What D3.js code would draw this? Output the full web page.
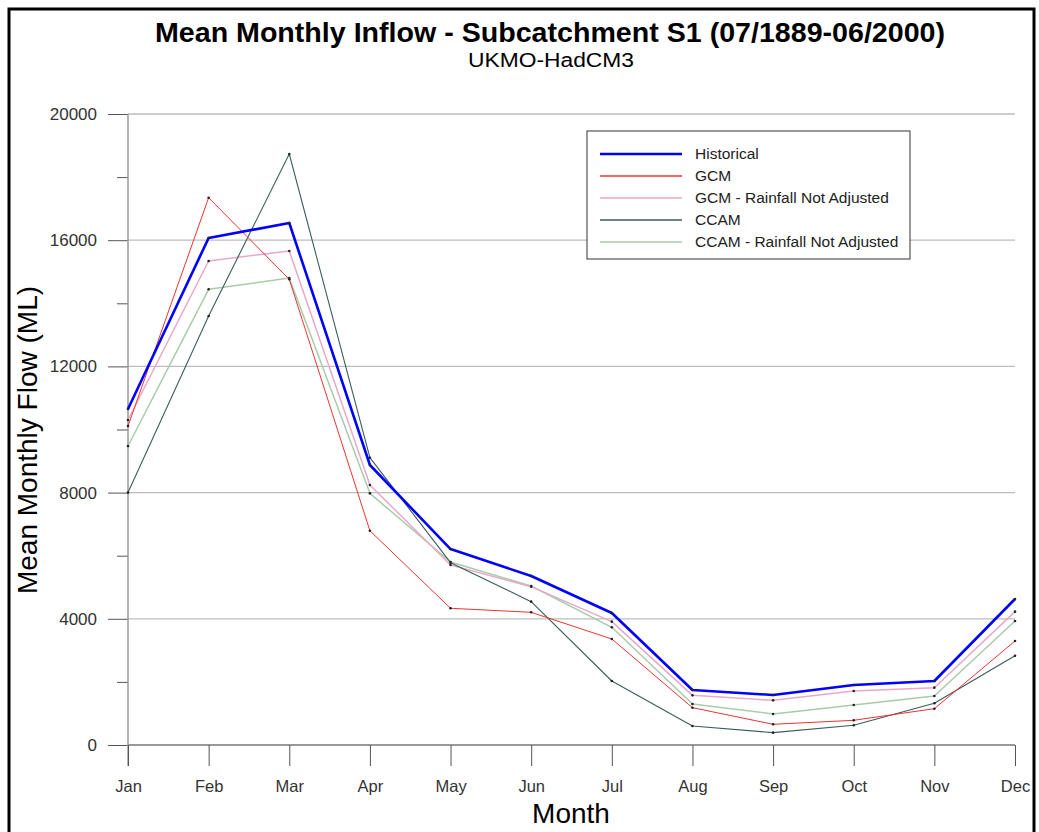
<!DOCTYPE html>
<html>
<head>
<meta charset="utf-8">
<script src="https://cdn.jsdelivr.net/npm/d3@7"></script>
<style>
  body { margin: 0; background: #fff; }
  svg { font-family: "Liberation Sans", Arial, sans-serif; }
</style>
</head>
<body>
<div id="mychart"></div>
<script>
const months = ["Jan", "Feb", "Mar", "Apr", "May", "Jun", "Jul", "Aug", "Sep", "Oct", "Nov", "Dec"];
const seriesNames = ["Historical", "GCM", "GCM - Rainfall Not Adjusted", "CCAM", "CCAM - Rainfall Not Adjusted"];
const historical = [10650, 16070, 16545, 8875, 6210, 5357, 4184, 1743, 1585, 1902, 2029, 4628];
const gcm = [10110, 17347, 14760, 6790, 4333, 4206, 3360, 1183, 656, 783, 1151, 3296];
const gcmRainNotAdj = [10300, 15341, 15658, 8241, 5705, 5018, 3909, 1574, 1416, 1712, 1817, 4226];
const ccam = [8000, 13597, 18732, 9106, 5780, 4543, 2029, 602, 391, 624, 1321, 2831];
const ccamRainNotAdj = [9477, 14444, 14802, 7977, 5800, 5040, 3730, 1300, 983, 1268, 1553, 3930];
const yTicks = [0, 4000, 8000, 12000, 16000, 20000];

const width = 1039, height = 832;
const margin = { top: 114, right: 24, bottom: 87, left: 128 };

const svg = d3.select("#mychart").append("svg")
    .attr("width", width)
    .attr("height", height);

// frame (no bottom edge visible)
svg.append("path")
    .attr("d", "M9,832 V9 H1034 V832")
    .attr("fill", "none")
    .attr("stroke", "#000")
    .attr("stroke-width", 3);

const x = d3.scalePoint().domain(months).range([margin.left, width - margin.right]);
const y = d3.scaleLinear().domain([0, 20000]).range([height - margin.bottom, margin.top]);

// grid
svg.selectAll(".grid")
    .data(yTicks)
    .enter()
    .append("line")
    .attr("x1", margin.left)
    .attr("x2", width - margin.right)
    .attr("y1", d => y(d))
    .attr("y2", d => y(d))
    .attr("stroke", d => d === 0 ? "#777" : "#bdbdbd")
    .attr("stroke-width", d => d === 0 ? 1.5 : 1.3);

// y axis
const yAxis = svg.append("g")
    .attr("transform", `translate(${margin.left},0)`)
    .call(d3.axisLeft(y).tickValues(yTicks).tickSize(20).tickPadding(11).tickFormat(d3.format("d")));
yAxis.select(".domain").remove();
yAxis.selectAll(".tick line").attr("stroke", "#555");
yAxis.selectAll(".tick text").attr("fill", "#333").style("font-size", "17px");

svg.append("g")
    .attr("transform", `translate(${margin.left},0)`)
    .call(d3.axisLeft(y).tickValues([2000, 6000, 10000, 14000, 18000]).tickSize(11).tickFormat(""))
    .call(g => g.select(".domain").remove())
    .selectAll(".tick line").attr("stroke", "#555");

svg.append("line")
    .attr("x1", margin.left).attr("x2", margin.left)
    .attr("y1", y(20000)).attr("y2", y(0) + 21)
    .attr("stroke", "#999").attr("stroke-width", 1.5);

// x axis
const xAxis = svg.append("g")
    .attr("transform", `translate(0,${y(0)})`)
    .call(d3.axisBottom(x).tickSize(21).tickPadding(14));
xAxis.select(".domain").remove();
xAxis.selectAll(".tick line").attr("stroke", "#555");
xAxis.selectAll(".tick text").attr("fill", "#333").style("font-size", "16.5px");

// titles
svg.append("text")
    .attr("x", 550).attr("y", 42)
    .attr("text-anchor", "middle")
    .attr("textLength", 790)
    .attr("lengthAdjust", "spacingAndGlyphs")
    .style("font-size", "28px").style("font-weight", "bold")
    .text("Mean Monthly Inflow - Subcatchment S1 (07/1889-06/2000)");
svg.append("text")
    .attr("x", 551).attr("y", 67)
    .attr("text-anchor", "middle")
    .attr("textLength", 166)
    .attr("lengthAdjust", "spacingAndGlyphs")
    .style("font-size", "20px")
    .text("UKMO-HadCM3");
svg.append("text")
    .attr("x", 571).attr("y", 823)
    .attr("text-anchor", "middle")
    .style("font-size", "28px")
    .text("Month");
svg.append("text")
    .attr("transform", "translate(37,440) rotate(-90)")
    .attr("text-anchor", "middle")
    .style("font-size", "28px")
    .text("Mean Monthly Flow (ML)");

// series
const series = [
    { name: seriesNames[0], values: historical, color: "#0000ff", width: 2.6 },
    { name: seriesNames[1], values: gcm, color: "#ee3333", width: 1 },
    { name: seriesNames[2], values: gcmRainNotAdj, color: "#e8a8cc", width: 1.5 },
    { name: seriesNames[3], values: ccam, color: "#3c5c5c", width: 1.1 },
    { name: seriesNames[4], values: ccamRainNotAdj, color: "#a8cca8", width: 1.5 }
];

const line = d3.line().x((d, i) => x(months[i])).y(d => y(d));

// draw order: lighter ones first, historical on top
[4, 2, 3, 1, 0].forEach(k => {
    const s = series[k];
    svg.append("path")
        .datum(s.values)
        .attr("d", line)
        .attr("fill", "none")
        .attr("stroke", s.color)
        .attr("stroke-width", s.width)
        .attr("stroke-linejoin", "round");
    svg.selectAll(".pt" + k)
        .data(s.values)
        .enter()
        .append("circle")
        .attr("cx", (d, i) => x(months[i]))
        .attr("cy", d => y(d))
        .attr("r", 1.3)
        .attr("fill", "#222");
});

// legend
const legend = svg.append("g").attr("transform", "translate(587,131)");
legend.append("rect")
    .attr("width", 323).attr("height", 128)
    .attr("fill", "#fff").attr("stroke", "#333").attr("stroke-width", 1);
series.forEach((s, i) => {
    const ly = 23 + i * 22;
    legend.append("line")
        .attr("x1", 13).attr("x2", 95)
        .attr("y1", ly).attr("y2", ly)
        .attr("stroke", s.color)
        .attr("stroke-width", i === 0 ? 2.6 : 1.5);
    legend.append("text")
        .attr("x", 108).attr("y", ly + 5)
        .style("font-size", "15.5px")
        .attr("fill", "#222")
        .text(s.name);
});
</script>
</body>
</html>
